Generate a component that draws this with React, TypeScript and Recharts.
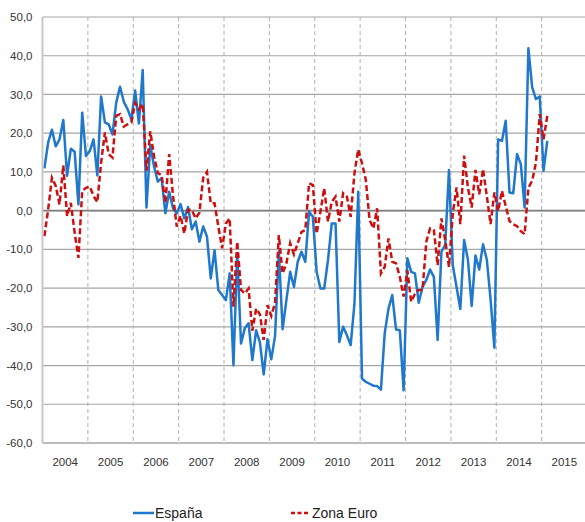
import React from 'react';
import { LineChart, Line, XAxis, YAxis, CartesianGrid, ReferenceLine, Legend } from 'recharts';

// monthly series, Jan 2004 .. Feb 2015
const ESPANA = [
  10.9, 17.6, 20.9, 16.6, 18.4, 23.4, 9, 16, 15.2, 1.6, 25.3, 14.1,
  15.4, 18.4, 9.1, 29.5, 22.8, 22.3, 19.7, 27.9, 32, 28.1, 26.2, 23.6,
  31, 22.5, 36.3, 0.8, 17, 11.4, 7.5, 8.4, -0.7, 4.9, 0.6, -0.7,
  1.7, -2, 0.9, -4.8, -2.8, -8, -4.1, -6.7, -17.5, -10.2, -20.5, -21.8,
  -23.1, -16.2, -39.9, -11, -34.3, -30.4, -29.1, -38.6, -30.9, -34, -42.3, -33.2,
  -38.4, -32.4, -10.5, -30.6, -23.1, -15.8, -19.7, -13.2, -10.6, -13.2, -0.3, -1.6,
  -15.8, -20.1, -20.1, -12.8, -3.3, -3.3, -33.9, -30, -32.2, -34.7, -24, 4.9,
  -43.4, -44.2, -44.7, -45.2, -45.3, -46.2, -31.7, -25.3, -21.8, -30.7, -30.9, -46.4,
  -12.3, -15.8, -16.2, -23.8, -19.7, -17.9, -15.2, -17.1, -33.4, -10.6, -8.9, 10.5,
  -14.1, -19.7, -25.4, -7.6, -12.6, -24.6, -11.6, -15.2, -8.7, -12.6, -22.9, -35.4,
  18.4, 18, 23.2, 4.7, 4.5, 14.6, 12, 0.8, 41.9, 31.8, 28.8, 29.5,
  10.3, 18,
];

const ZONA_EURO = [
  -6.6, 0.3, 8.5, 6.4, 1.6, 11.7, -1.4, 2, -5.7, -12.2, 5.1, 5.9,
  6.2, 3.8, 2.2, 12.4, 20.2, 14.6, 13.7, 24.5, 24.9, 21.7, 22.3, 22.8,
  27.8, 26.2, 27.5, 10.3, 20.5, 14, 9.7, 9.2, 2, 14.6, 4, -4.1,
  -1.3, -5.9, 0.2, 0.2, -2, -0.5, 8.5, 10, 1.9, 1.9, -4.1, -9.7,
  -3.3, -2, -24.8, -8, -20.5, -21.4, -20.1, -31, -25.3, -26.8, -33.4, -24.4,
  -27.2, -23.8, -6.3, -16.2, -13.6, -8.4, -11.3, -8.4, -5.5, -5, 7.1, 6.6,
  -5.9, -0.3, 5.8, -2.8, 2.3, 3.6, -2.8, 4.5, 3.6, -1.6, 9.7, 15.8,
  12.2, 8, -2.4, -4.6, 0.6, -16.2, -14.5, -7.2, -13.2, -13.6, -17.1, -22.2,
  -15.5, -23.5, -21.5, -20.5, -20.5, -8, -4.6, -5, -14.1, -2, -7.6, -14.5,
  -0.7, 6, -3.5, 14.2, 6, 0.8, 10.5, 4.2, 10.7, 3.8, -3.5, 4.7,
  -0.1, 5.1, 1.2, -2.7, -3.5, -4, -5.3, -6.1, 5.9, 7.7, 12.4, 24.9,
  18.4, 24.5,
];

const YEARS = ['2004', '2005', '2006', '2007', '2008', '2009', '2010', '2011', '2012', '2013', '2014', '2015'];
const Y_TICKS = [-60, -50, -40, -30, -20, -10, 0, 10, 20, 30, 40, 50];

const data = ESPANA.map((v, i) => ({ t: i + 0.5, es: v, ze: ZONA_EURO[i] }));
const yearMid = YEARS.map((_, i) => i * 12 + 6);
const yearEdge = YEARS.map((_, i) => (i + 1) * 12);

const FONT = "'Liberation Sans', Arial, sans-serif";
const BLUE = '#1f78cc';
const RED = '#cc1010';

const fmt = (v: number) => v.toFixed(1).replace('.', ',');

const LegendBox = () => (
  <div style={{ position: 'relative', height: 20, fontFamily: FONT, fontSize: 14, color: '#222' }}>
    <div style={{ position: 'absolute', left: 133, top: 0, height: 20, display: 'flex', alignItems: 'center' }}>
      <svg width={21} height={20}><line x1={0} y1={10} x2={21} y2={10} stroke={BLUE} strokeWidth={2.5} /></svg>
      <span style={{ marginLeft: 1 }}>España</span>
    </div>
    <div style={{ position: 'absolute', left: 291, top: 0, height: 20, display: 'flex', alignItems: 'center' }}>
      <svg width={18} height={20}><line x1={0} y1={10} x2={18} y2={10} stroke={RED} strokeWidth={2.5} strokeDasharray="4 2.5" /></svg>
      <span style={{ marginLeft: 3 }}>Zona Euro</span>
    </div>
  </div>
);

export default function App() {
  return (
    <div style={{ position: 'absolute', left: 0, top: 0, width: 585, height: 522, overflow: 'hidden' }}>
      <LineChart width={588} height={522} data={data} margin={{ top: 17, right: 1, left: 0, bottom: 29 }}>
        <CartesianGrid xAxisId="grid" vertical={false} stroke="#a6a6a6" strokeWidth={1.2} />
        <CartesianGrid xAxisId="grid" horizontal={false} stroke="#b0b0b0" strokeDasharray="4 3" />
        <XAxis
          xAxisId="grid"
          orientation="top"
          dataKey="t"
          type="number"
          domain={[0, 144]}
          ticks={yearEdge}
          hide
        />
        <XAxis
          xAxisId="lab"
          dataKey="t"
          type="number"
          domain={[0, 144]}
          ticks={yearMid}
          interval={0}
          tickFormatter={(v: number) => YEARS[Math.floor(v / 12)]}
          axisLine={{ stroke: '#a6a6a6' }}
          tickLine={false}
          tickSize={0}
          tickMargin={15}
          height={30}
          tick={{ fontSize: 11.5, fill: '#333', fontFamily: FONT }}
        />
        <YAxis
          domain={[-60, 50]}
          ticks={Y_TICKS}
          interval={0}
          tickFormatter={fmt}
          width={42.5}
          axisLine={{ stroke: '#c8c8c8', strokeWidth: 2 }}
          tickLine={false}
          tickSize={0}
          tickMargin={10}
          tick={{ fontSize: 11.5, fill: '#333', fontFamily: FONT }}
        />
        <ReferenceLine xAxisId="lab" y={0} stroke="#7f7f7f" strokeWidth={1.6} />
        <Line
          xAxisId="lab"
          type="linear"
          dataKey="es"
          name="España"
          stroke={BLUE}
          strokeWidth={2.5}
          strokeLinejoin="round"
          dot={false}
          isAnimationActive={false}
        />
        <Line
          xAxisId="lab"
          type="linear"
          dataKey="ze"
          name="Zona Euro"
          stroke={RED}
          strokeWidth={2.5}
          strokeDasharray="6 3"
          dot={false}
          isAnimationActive={false}
        />
        <Legend content={<LegendBox />} wrapperStyle={{ left: 0, top: 503, width: 585 }} />
      </LineChart>
    </div>
  );
}
